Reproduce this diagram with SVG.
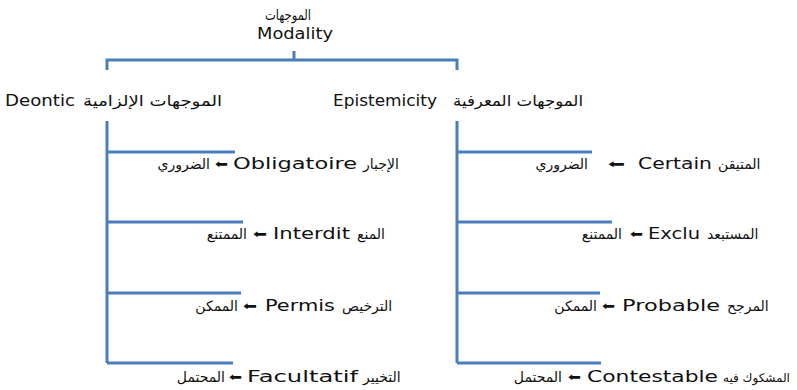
<svg xmlns="http://www.w3.org/2000/svg" width="797" height="390" viewBox="0 0 797 390">
<style>
.bg{fill:#ffffff}
.ln{fill:none;stroke:#4a7ebb;stroke-width:3;stroke-linecap:butt}
.t{font-family:"DejaVu Sans","Noto Sans",sans-serif;font-size:15px;fill:#111111}
.ar{font-family:"DejaVu Sans",sans-serif;font-size:14px;fill:#111111}
.s{text-anchor:start}
.e{text-anchor:end}
.m{text-anchor:middle}
.arw{font-family:"DejaVu Sans",sans-serif;font-size:12px;fill:#111111}
</style>
<rect class="bg" x="0" y="0" width="797" height="390"/>
<g id="connectors">
<path class="ln" d="M294,51 V60 M107,70 V60 H457 V70"/>
<path class="ln" d="M107,121 V363 M107,152 H235 M107,222 H243 M107,293 H241 M107,363 H233"/>
<path class="ln" d="M457,121 V363 M457,152 H592 M457,222 H612 M457,293 H600 M457,363 H601"/>
</g>
<g id="root">
<text class="ar" x="265" y="20" textLength="46" lengthAdjust="spacingAndGlyphs">الموجهات</text>
<text class="t" x="257" y="39" textLength="76" lengthAdjust="spacingAndGlyphs">Modality</text>
</g>
<g id="deontic">
<text class="t" x="5" y="106" textLength="70" lengthAdjust="spacingAndGlyphs">Deontic</text>
<text class="ar" style="font-size:15px" x="83" y="106" textLength="139" lengthAdjust="spacingAndGlyphs">الموجهات الإلزامية</text>
</g>
<g id="epistemic">
<text class="t" x="333" y="106" textLength="104" lengthAdjust="spacingAndGlyphs">Epistemicity</text>
<text class="ar" style="font-size:15px" x="453" y="106" textLength="130" lengthAdjust="spacingAndGlyphs">الموجهات المعرفية</text>
</g>
<g id="d-obligatoire">
<text class="ar e" x="210" y="169">الضروري</text>
<text class="arw" x="215" y="168" textLength="13" lengthAdjust="spacingAndGlyphs">⬅</text>
<text class="t" x="233" y="169" textLength="124" lengthAdjust="spacingAndGlyphs">Obligatoire</text>
<text class="ar s" x="363" y="169">الإجبار</text>
</g>
<g id="d-interdit">
<text class="ar e" x="247" y="239">الممتنع</text>
<text class="arw" x="253" y="238" textLength="14" lengthAdjust="spacingAndGlyphs">⬅</text>
<text class="t" x="273" y="239" textLength="77" lengthAdjust="spacingAndGlyphs">Interdit</text>
<text class="ar s" x="357" y="239">المنع</text>
</g>
<g id="d-permis">
<text class="ar e" x="238" y="311">الممكن</text>
<text class="arw" x="243" y="310" textLength="14" lengthAdjust="spacingAndGlyphs">⬅</text>
<text class="t" x="265" y="311" textLength="70" lengthAdjust="spacingAndGlyphs">Permis</text>
<text class="ar s" x="342" y="311">الترخيص</text>
</g>
<g id="d-facultatif">
<text class="ar e" x="225" y="382">المحتمل</text>
<text class="arw" x="229" y="381" textLength="13" lengthAdjust="spacingAndGlyphs">⬅</text>
<text class="t" x="247" y="382" textLength="111" lengthAdjust="spacingAndGlyphs">Facultatif</text>
<text class="ar s" x="363" y="382">التخيير</text>
</g>
<g id="e-certain">
<text class="ar e" x="588" y="169">الضروري</text>
<text class="arw" x="608" y="168" textLength="17" lengthAdjust="spacingAndGlyphs">⬅</text>
<text class="t" x="638" y="169" textLength="74" lengthAdjust="spacingAndGlyphs">Certain</text>
<text class="ar s" x="718" y="169">المتيقن</text>
</g>
<g id="e-exclu">
<text class="ar e" x="622" y="239">الممتنع</text>
<text class="arw" x="630" y="238" textLength="13" lengthAdjust="spacingAndGlyphs">⬅</text>
<text class="t" x="648" y="239" textLength="52" lengthAdjust="spacingAndGlyphs">Exclu</text>
<text class="ar s" x="707" y="239">المستبعد</text>
</g>
<g id="e-probable">
<text class="ar e" x="597" y="311">الممكن</text>
<text class="arw" x="602" y="310" textLength="13" lengthAdjust="spacingAndGlyphs">⬅</text>
<text class="t" x="622" y="311" textLength="98" lengthAdjust="spacingAndGlyphs">Probable</text>
<text class="ar s" x="727" y="311">المرجح</text>
</g>
<g id="e-contestable">
<text class="ar e" x="562" y="382">المحتمل</text>
<text class="arw" x="568" y="381" textLength="13" lengthAdjust="spacingAndGlyphs">⬅</text>
<text class="t" x="587" y="382" textLength="131" lengthAdjust="spacingAndGlyphs">Contestable</text>
<text class="ar s" style="font-size:12px" x="723" y="382">المشكوك فيه</text>
</g>
</svg>
